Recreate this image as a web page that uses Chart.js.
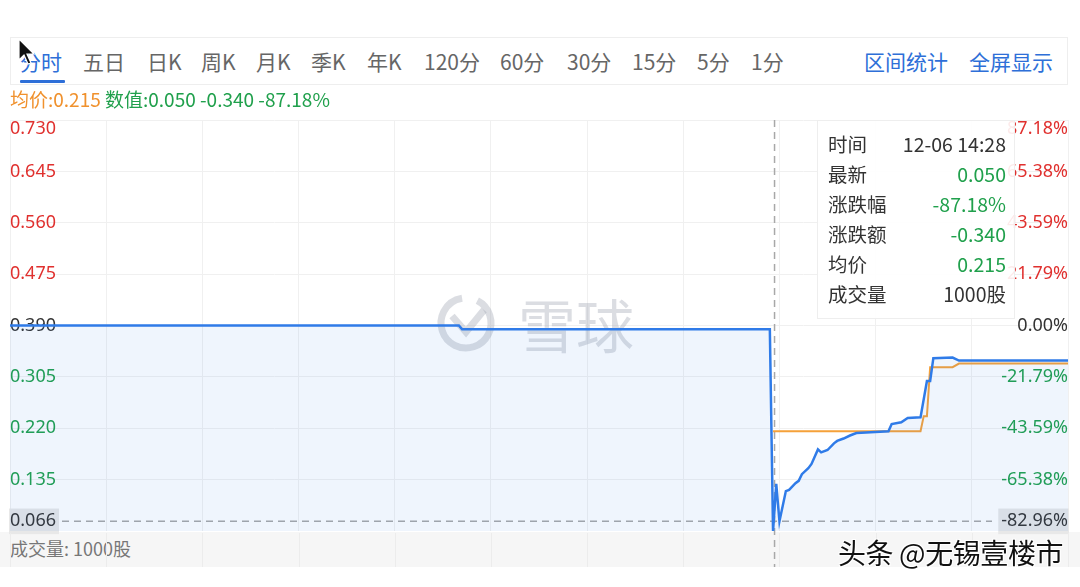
<!DOCTYPE html>
<html>
<head>
<meta charset="utf-8">
<script src="https://cdn.jsdelivr.net/npm/chart.js@4.4.1/dist/chart.umd.min.js"></script>
<style>
  body { margin: 0; width: 1080px; height: 587px; background: #fff; position: relative; overflow: hidden;
         font-family: "Noto Sans CJK SC", "Noto Sans", sans-serif; }
  #tabs { position: absolute; left: 10px; top: 37px; width: 1058px; height: 48px; border: 1px solid #eeeeee;
          box-sizing: border-box; z-index: 3; background: #fff; }
  .tab { position: absolute; top: 8px; font-size: 21px; color: #666; white-space: nowrap; line-height: 30px; }
  .tab.on, .tab.link { color: #2e6fd8; }
  #underline { position: absolute; left: 9px; top: 42px; width: 45px; height: 3px; background: #2e6fd8; border-radius: 1px; }
  #info { position: absolute; left: 10px; top: 87px; font-size: 19px; line-height: 24px; z-index: 3; white-space: nowrap; }
  #info .avg { color: #f0912d; }
  #info .val { color: #20a04c; }
  #vol { position: absolute; left: 0; top: 532px; width: 1080px; height: 35px; background: #f6f6f6; z-index: 0; }
  #vol span { position: absolute; left: 10px; top: 3px; font-size: 18px; color: #777; }
  #chart { position: absolute; left: 0; top: 0; z-index: 1; }
  #tip { position: absolute; left: 817px; top: 120px; width: 198px; height: 199px; box-sizing: border-box;
         background: rgba(255,255,255,0.9); border: 1px solid #eeeeee; z-index: 2; font-size: 19.5px; color: #333; }
  .row { position: absolute; left: 10px; right: 8px; height: 30px; line-height: 30px; }
  .row b { font-weight: normal; }
  .row i { font-style: normal; position: absolute; right: 0; top: 0; }
  .g { color: #20a04c; }
  #mark { position: absolute; left: 838px; top: 532px; font-size: 28px; color: #111; z-index: 4; letter-spacing: -0.4px;
          text-shadow: -1px -1px 0 #fff, 1px -1px 0 #fff, -1px 1px 0 #fff, 1px 1px 0 #fff; white-space: nowrap; }
  #cursor { position: absolute; left: 18px; top: 38px; z-index: 5; }
</style>
</head>
<body>
<div id="tabs">
  <span class="tab on" style="left:9px">分时</span>
  <span class="tab" style="left:72px">五日</span>
  <span class="tab" style="left:136px">日K</span>
  <span class="tab" style="left:190px">周K</span>
  <span class="tab" style="left:245px">月K</span>
  <span class="tab" style="left:300px">季K</span>
  <span class="tab" style="left:356px">年K</span>
  <span class="tab" style="left:413px">120分</span>
  <span class="tab" style="left:489px">60分</span>
  <span class="tab" style="left:556px">30分</span>
  <span class="tab" style="left:621px">15分</span>
  <span class="tab" style="left:686px">5分</span>
  <span class="tab" style="left:740px">1分</span>
  <span class="tab link" style="left:853px">区间统计</span>
  <span class="tab link" style="left:958px">全屏显示</span>
  <div id="underline"></div>
</div>
<div id="info"><span class="avg">均价:0.215</span> <span class="val">数值:0.050 -0.340 -87.18%</span></div>
<div id="vol"><span>成交量: 1000股</span></div>
<canvas id="chart" width="1080" height="587"></canvas>
<div id="tip">
  <div class="row" style="top:8px"><b>时间</b><i>12-06 14:28</i></div>
  <div class="row" style="top:38px"><b>最新</b><i class="g">0.050</i></div>
  <div class="row" style="top:68px"><b>涨跌幅</b><i class="g">-87.18%</i></div>
  <div class="row" style="top:98px"><b>涨跌额</b><i class="g">-0.340</i></div>
  <div class="row" style="top:128px"><b>均价</b><i class="g">0.215</i></div>
  <div class="row" style="top:158px"><b>成交量</b><i>1000股</i></div>
</div>
<div id="mark">头条 @无锡壹楼市</div>
<svg id="cursor" width="20" height="30" viewBox="0 0 20 30">
  <path d="M1 1 L1 22 L6 17 L10 26 L13 25 L9 16 L16 16 Z" fill="#111" stroke="#fff" stroke-width="1.2"/>
</svg>

<script>
// price axis ticks (left) and change-percent labels (right)
const leftTicks = [0.730, 0.645, 0.560, 0.475, 0.390, 0.305, 0.220, 0.135, 0.066];
const leftTickLabels = ['0.730', '0.645', '0.560', '0.475', '0.390', '0.305', '0.220', '0.135', '0.066'];
const rightTickLabels = ['87.18%', '65.38%', '43.59%', '21.79%', '0.00%', '-21.79%', '-43.59%', '-65.38%', '-82.96%'];
const prevClose = 0.390;
const yMin = 0.050;
const yMax = 0.730;

// intraday price (HK session 09:30-12:00, 13:00-16:00)
const priceTimes = ['09:30', '11:50', '11:51', '14:27', '14:28', '14:29', '14:30', '14:32', '14:33', '14:35',
  '14:36', '14:37', '14:39', '14:40', '14:42', '14:43', '14:45', '14:47', '14:48', '14:50',
  '14:52', '14:54', '14:57', '15:04', '15:05', '15:08', '15:10', '15:14', '15:16', '15:17',
  '15:18', '15:24', '15:26', '16:00'];
const priceValues = [0.390, 0.390, 0.384, 0.384, 0.050, 0.128, 0.066, 0.116, 0.118, 0.129,
  0.133, 0.144, 0.154, 0.161, 0.185, 0.180, 0.184, 0.195, 0.199, 0.203,
  0.208, 0.212, 0.213, 0.215, 0.227, 0.230, 0.237, 0.238, 0.298, 0.298,
  0.336, 0.337, 0.332, 0.332];

// average price
const avgTimes = ['14:28', '15:14', '15:15', '15:16', '15:17', '15:24', '15:26', '16:00'];
const avgValues = [0.215, 0.215, 0.240, 0.240, 0.321, 0.321, 0.327, 0.327];

const cursorTime = '14:28';
const sessionMinutes = 330;

const RED = '#e0302e';
const GREEN = '#20a04c';
const DARK = '#333333';

function toIndex(t) {
  const [h, m] = t.split(':').map(Number);
  const mins = h * 60 + m;
  return mins <= 720 ? mins - 570 : 150 + mins - 780;
}

function toPoints(times, values) {
  return times.map((t, i) => ({ x: toIndex(t), y: values[i] }));
}

function labelColor(ctx) {
  if (ctx.index === leftTicks.length - 1) return DARK;
  const v = leftTicks[ctx.index];
  if (v > prevClose) return RED;
  if (v < prevClose) return GREEN;
  return DARK;
}

const extras = {
  id: 'extras',
  beforeDraw(chart) {
    // keep the top tick label inside the plot
    ['y', 'y2'].forEach(id => {
      const items = chart.scales[id].getLabelItems(chart.chartArea);
      if (items.length) items[0].options.textBaseline = 'top';
    });
  },
  beforeDatasetsDraw(chart) {
    const { ctx, chartArea, scales } = chart;
    ctx.save();
    // watermark
    ctx.strokeStyle = 'rgba(160,166,178,0.38)';
    ctx.lineWidth = 7;
    ctx.beginPath();
    ctx.arc(466, 323, 25, -0.35 * Math.PI, 1.45 * Math.PI);
    ctx.stroke();
    ctx.beginPath();
    ctx.moveTo(452, 316);
    ctx.lineTo(466, 332);
    ctx.lineTo(484, 310);
    ctx.stroke();
    ctx.fillStyle = 'rgba(160,166,178,0.38)';
    ctx.font = '58px "Noto Sans CJK SC"';
    ctx.textBaseline = 'middle';
    ctx.fillText('雪球', 518, 326);

    // dashed low line
    const yLow = scales.y.getPixelForValue(leftTicks[leftTicks.length - 1]);
    ctx.strokeStyle = '#a8a8a8';
    ctx.lineWidth = 1.5;
    ctx.setLineDash([7, 5]);
    ctx.beginPath();
    ctx.moveTo(chartArea.left + 52, yLow);
    ctx.lineTo(chartArea.right - 76, yLow);
    ctx.stroke();

    // crosshair
    const xc = scales.x.getPixelForValue(toIndex(cursorTime)) + 1.5;
    ctx.beginPath();
    ctx.moveTo(xc, chartArea.top);
    ctx.lineTo(xc, 567);
    ctx.stroke();
    ctx.setLineDash([]);

    // grid lines through volume strip
    ctx.strokeStyle = '#ececec';
    ctx.lineWidth = 1;
    scales.x.ticks.forEach(t => {
      const x = Math.round(scales.x.getPixelForValue(t.value)) + 0.5;
      ctx.beginPath();
      ctx.moveTo(x, chartArea.bottom + 2);
      ctx.lineTo(x, 567);
      ctx.stroke();
    });
    ctx.restore();
  }
};

new Chart(document.getElementById('chart'), {
  type: 'line',
  data: {
    datasets: [
      {
        label: '价格',
        data: toPoints(priceTimes, priceValues),
        borderColor: '#2f7be8',
        borderWidth: 2.5,
        backgroundColor: 'rgba(47,123,232,0.08)',
        fill: 'start',
        pointRadius: 0,
        tension: 0,
        yAxisID: 'y'
      },
      {
        label: '均价',
        data: toPoints(avgTimes, avgValues),
        borderColor: '#f5a13a',
        borderWidth: 2,
        fill: false,
        pointRadius: 0,
        tension: 0,
        yAxisID: 'y'
      }
    ]
  },
  options: {
    responsive: false,
    animation: false,
    devicePixelRatio: 1,
    layout: { padding: { left: 10, right: 12, top: 120, bottom: 56 } },
    plugins: { legend: { display: false }, tooltip: { enabled: false } },
    scales: {
      x: {
        type: 'linear',
        min: 0,
        max: sessionMinutes,
        ticks: { display: false, stepSize: 30 },
        grid: { color: '#f0f0f0', drawTicks: false },
        border: { display: false }
      },
      y: {
        position: 'left',
        min: yMin,
        max: yMax,
        afterBuildTicks: scale => { scale.ticks = leftTicks.map(v => ({ value: v })); },
        ticks: {
          mirror: true,
          padding: 0,
          font: { size: 18, family: '"Noto Sans", sans-serif' },
          color: labelColor,
          callback: (v, i) => leftTickLabels[i],
          showLabelBackdrop: ctx => ctx.index === leftTicks.length - 1,
          backdropColor: '#e8e8e8',
          backdropPadding: { left: 1, right: 3, top: 2, bottom: 2 }
        },
        grid: {
          color: ctx => (ctx.index === leftTicks.length - 1 ? 'rgba(0,0,0,0)' : '#f0f0f0'),
          drawTicks: false
        },
        border: { display: false }
      },
      y2: {
        position: 'right',
        min: yMin,
        max: yMax,
        afterBuildTicks: scale => { scale.ticks = leftTicks.map(v => ({ value: v })); },
        ticks: {
          mirror: true,
          padding: 0,
          font: { size: 18, family: '"Noto Sans", sans-serif' },
          color: labelColor,
          callback: (v, i) => rightTickLabels[i],
          showLabelBackdrop: ctx => ctx.index === leftTicks.length - 1,
          backdropColor: '#e8e8e8',
          backdropPadding: { left: 3, right: 1, top: 2, bottom: 2 }
        },
        grid: { display: false, drawTicks: false },
        border: { display: false }
      }
    }
  },
  plugins: [extras]
});
</script>
</body>
</html>
